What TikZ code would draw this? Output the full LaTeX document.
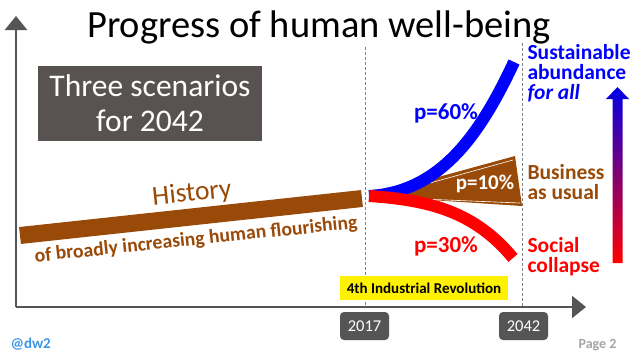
\documentclass[tikz,border=0pt]{standalone}
\usepackage{fontspec}
\setmainfont{Carlito}
\usetikzlibrary{arrows.meta}
\definecolor{hbrown}{RGB}{153,74,8}
\definecolor{axgray}{RGB}{85,85,85}
\definecolor{boxgray}{RGB}{88,83,81}
\definecolor{twblue}{RGB}{60,150,230}
\tikzset{
	axis/.style={draw=axgray, line width=2.5pt, -{Triangle[length=14pt,width=22pt]}},
	yearline/.style={draw=gray, densely dashed, line width=0.8pt},
	yearbox/.style={fill=axgray, rounded corners=4pt, text=white, minimum width=49pt, minimum height=28pt, font=\fontsize{16.5}{16.5}\selectfont},
	path/.style={line width=12pt},
	pct/.style={font=\fontsize{23}{23}\selectfont\bfseries},
	outcome/.style={align=left, anchor=west, font=\fontsize{21.5}{20}\selectfont\bfseries}
}
\begin{document}
\begin{tikzpicture}[x=1pt, y=-1pt]
	\useasboundingbox[fill=white] (0,0) rectangle (638,359);
	\node (title) at (319,27)	[font=\fontsize{38.5}{38.5}\selectfont]	{Progress of human well-being};
	\node (scen) at (150,103.5)	[fill=boxgray, text=white, minimum width=224pt, minimum height=75pt, align=center, font=\fontsize{31.5}{35}\selectfont]	{Three scenarios\\for 2042};
	\coordinate (corner) at (16,307);
	\coordinate (ytop) at (16,16);
	\coordinate (xend) at (586,307);
	\draw[axis] (corner) -- (ytop);
	\draw[axis] (corner) -- (xend);
	\coordinate (d17) at (365,47);
	\coordinate (d42) at (522,43);
	\draw[yearline] (d17) -- (d17 |- corner);
	\draw[yearline] (d42) -- (d42 |- corner);
	\node (y17) at (364.5,326)	[yearbox]	{2017};
	\node (y42) at (523.5,326)	[yearbox]	{2042};
	\node (ir) at (424,288)	[fill=yellow, minimum width=168pt, minimum height=24pt, font=\fontsize{15}{15}\selectfont\bfseries]	{4th Industrial Revolution};
	\coordinate (hl) at (20,235.5);
	\coordinate (hr) at (362,198.5);
	\draw[hbrown, line width=17pt] (hl) -- (hr);
	\node (hist) at (192,194)	[rotate=6, text=hbrown, font=\fontsize{27.5}{27.5}\selectfont]	{History};
	\node (flour) at (196,240)	[rotate=6, text=hbrown, font=\fontsize{19.7}{19.7}\selectfont\bfseries]	{of broadly increasing human flourishing};
	\coordinate (o) at (369,196);
	\coordinate (wt) at (515,156);
	\coordinate (wb) at (522,206);
	\fill[hbrown] (o) -- (wt) -- (wb) -- cycle;
	\draw[white, line width=0.6pt] (430,183) -- (513,160);
	\draw[white, line width=0.6pt] (422,199) -- (520,203);
	\node (p10) at (485,184)	[text=white, font=\fontsize{21}{21}\selectfont\bfseries]	{p=10\%};
	\coordinate (sa) at (514,62);
	\coordinate (sc) at (513,258);
	\draw[path, blue] (o) .. controls (440,192) and (480,135) .. (sa);
	\draw[path, red] (o) .. controls (430,200) and (475,212) .. (sc);
	\node (p60) at (446,113)	[pct, text=blue]	{p=60\%};
	\node (p30) at (446,246)	[pct, text=red]	{p=30\%};
	\node (sus) at (524,73)	[outcome, text=blue]	{Sustainable\\abundance\\\textit{for all}};
	\node (bau) at (524,182)	[outcome, text=hbrown]	{Business\\as usual};
	\node (col) at (524,257)	[outcome, text=red]	{Social\\collapse};
	\shade[top color=blue!90!black, middle color=hbrown, bottom color=red] (612.5,263) -- (612.5,99) -- (606,99) -- (617.5,87) -- (629,99) -- (622.5,99) -- (622.5,263) -- cycle;
	\node (dw) at (7,344)	[anchor=west, text=twblue, font=\fontsize{15}{15}\selectfont\bfseries]	{@dw2};
	\node (page) at (620,345)	[anchor=east, text=gray!70, font=\fontsize{14}{14}\selectfont\bfseries]	{Page 2};
\end{tikzpicture}
\end{document}
